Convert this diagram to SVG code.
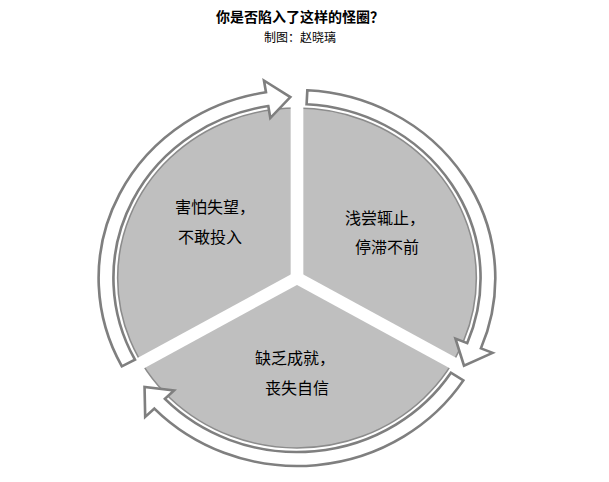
<svg xmlns="http://www.w3.org/2000/svg" width="609" height="482" viewBox="0 0 609 482">
<style>
.t{font-family:"Liberation Sans","Noto Sans CJK SC",sans-serif;fill:#000}
.lb{font-size:16px}
.arr{fill:#fff;stroke:#7f7f7f;stroke-width:2.5;stroke-linejoin:miter}
</style>
<rect width="609" height="482" fill="#fff"/>
<text class="t" x="300" y="22" text-anchor="middle" font-size="14" font-weight="bold">你是否陷入了这样的怪圈？</text>
<text class="t" x="300" y="42" text-anchor="middle" font-size="12">制图：赵晓璃</text>
<g transform="translate(297,278) scale(1.055,1)">
<g id="pie">
<circle r="170" fill="#bfbfbf" stroke="#8c8c8c" stroke-width="1.5"/>
<g stroke="#fff" stroke-width="12">
<line x1="0" y1="0" x2="0" y2="-180"/>
<line x1="0" y1="0" x2="160" y2="92"/>
<line x1="0" y1="0" x2="-160" y2="92"/>
</g>
</g>
<g id="connectors">
<path class="arr" d="M-166,88.3 A188 188 0 0 1 -29.4,-185.7 L-31.3,-197.5 L-6.3,-180.9 L-25.3,-160 L-27.2,-171.9 A174 174 0 0 0 -153.6,81.7 Z"/>
<path class="arr" d="M9.8,-187.7 A188 188 0 0 1 174.3,70.4 L185.4,74.9 L158.3,87.7 L150.2,60.7 L161.3,65.2 A174 174 0 0 0 9.1,-173.8 Z"/>
<path class="arr" d="M157.7,102.4 A188 188 0 0 1 -135.2,130.6 L-143.9,138.9 L-144.5,108.9 L-116.5,112.5 L-125.2,120.9 A174 174 0 0 0 145.9,94.8 Z"/>
</g>
</g>
<g id="n1"><text class="t lb" x="175" y="213">害怕失望，</text><text class="t lb" x="178" y="243">不敢投入</text></g>
<g id="n2"><text class="t lb" x="345" y="224">浅尝辄止，</text><text class="t lb" x="355" y="253">停滞不前</text></g>
<g id="n3"><text class="t lb" x="255" y="364">缺乏成就，</text><text class="t lb" x="265" y="394">丧失自信</text></g>
</svg>
